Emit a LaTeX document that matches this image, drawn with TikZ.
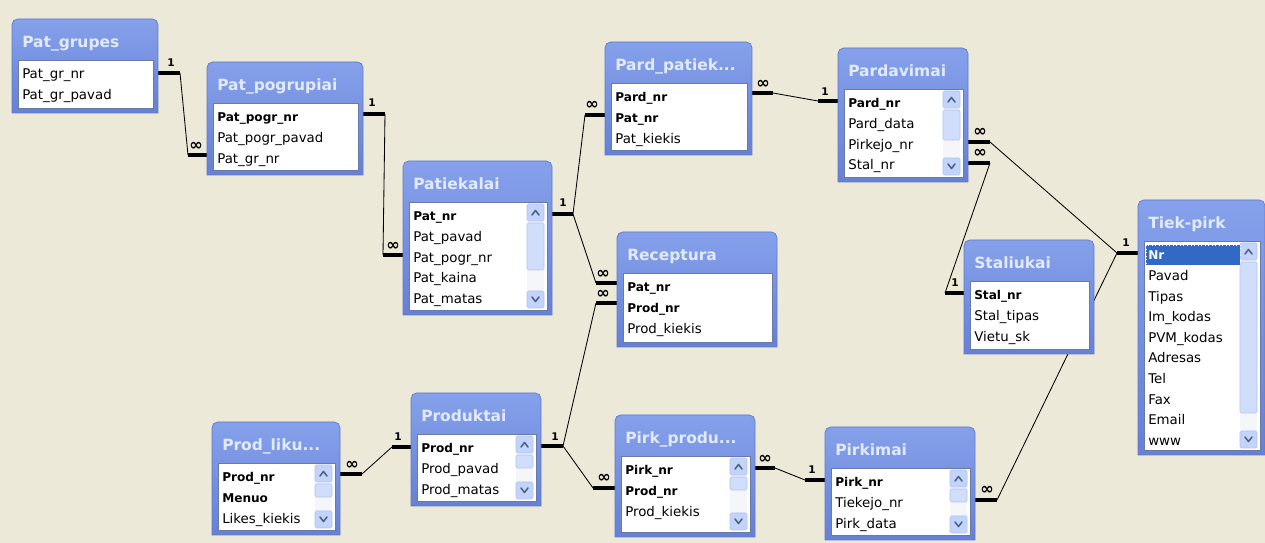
\documentclass[tikz,border=0pt]{standalone}
\usepackage{fontspec}
\setmainfont{DejaVu Sans}
\usepackage{tikz}
\usetikzlibrary{positioning}

\definecolor{bgxp}{RGB}{236,233,216}
\definecolor{frametop}{RGB}{134,161,235}
\definecolor{framebot}{RGB}{102,128,213}
\definecolor{frameline}{RGB}{96,121,204}
\definecolor{titletxt}{RGB}{226,234,253}
\definecolor{listline}{RGB}{105,122,165}
\definecolor{scrbtn}{RGB}{195,212,251}
\definecolor{scrthumb}{RGB}{208,222,252}
\definecolor{scredge}{RGB}{176,195,240}
\definecolor{scrtrack}{RGB}{245,246,250}
\definecolor{scrarrow}{RGB}{77,97,133}
\definecolor{selblue}{RGB}{49,106,197}

\tikzset{
  tframe/.style={top color=frametop, bottom color=framebot, draw=frameline, line width=0.5pt},
  tlist/.style={fill=white, draw=listline, line width=0.6pt},
  ttitle/.style={anchor=base west, inner sep=0pt, text=titletxt, font=\fontsize{11}{13}\selectfont\bfseries},
  field/.style={anchor=base west, inner sep=0pt, font=\fontsize{9.5}{11}\selectfont},
  keyfield/.style={anchor=base west, inner sep=0pt, font=\fontsize{8.6}{11}\selectfont\bfseries},
  relbar/.style={line width=2.2pt},
  relline/.style={line width=0.6pt},
  card/.style={inner sep=0pt, font=\fontsize{7.5}{8}\selectfont\bfseries},
  manycard/.style={inner sep=0pt, font=\fontsize{11.5}{12}\selectfont\bfseries},
  scrbox/.style={fill=scrbtn, draw=scredge, line width=0.4pt, rounded corners=1pt},
  scrtip/.style={draw=scrarrow, line width=1.1pt, line cap=round, line join=round},
}

% table frame: name, left, top, right, bottom, title
\newcommand{\dbtable}[6]{%
  \path[tframe] (#2,#5) [rounded corners=4pt] -- (#2,#3) -- (#4,#3) [sharp corners] -- (#4,#5) -- cycle;
  \node[ttitle] (#1) at (#2+10,#3+29) {#6};
  \path[tlist] (#2+6,#3+41) rectangle (#4-5,#5-5);
}
% field rows: name, left, top, list of style/text
\newcommand{\dbfields}[4]{%
  \foreach \s/\f [count=\i] in {#4}
    \node[\s] (#1-\i) at (#2+10,#3+39.4+20.6*\i) {\f};
}
% scroll bar: list right, list top, list bottom, thumb end
\newcommand{\dbscroll}[4]{%
  \fill[scrtrack] (#1-20,#2+2) rectangle (#1-3,#3-2);
  \path[scrbox] (#1-20,#2+2) rectangle (#1-3,#2+19);
  \path[scrbox] (#1-20,#3-19) rectangle (#1-3,#3-2);
  \path[scrbox, fill=scrthumb] (#1-20,#2+21) rectangle (#1-3,#4);
  \draw[scrtip] (#1-15,#2+13) -- (#1-11.5,#2+8.5) -- (#1-8,#2+13);
  \draw[scrtip] (#1-15,#3-13) -- (#1-11.5,#3-8.5) -- (#1-8,#3-13);
}

\begin{document}
\begin{tikzpicture}[x=0.025cm, y=-0.025cm]
\fill[bgxp] (0,0) rectangle (1265,543);
\useasboundingbox (0,0) rectangle (1265,543);

% relation end points
\coordinate (gr1) at (158,73);  \coordinate (gr2) at (180,73);
\coordinate (pg4) at (188,155); \coordinate (pg3) at (207,155);
\coordinate (pg1) at (363,114); \coordinate (pg2) at (385,114);
\coordinate (pt4) at (383,255); \coordinate (pt3) at (403,255);
\coordinate (pt1) at (552,214); \coordinate (pt2) at (573,214);
\coordinate (pp4) at (585,115); \coordinate (pp3) at (605,115);
\coordinate (rc4) at (596,283); \coordinate (rc3) at (617,283);
\coordinate (rc6) at (596,303); \coordinate (rc5) at (617,303);
\coordinate (pr1) at (541,446); \coordinate (pr2) at (563,446);
\coordinate (pk4) at (593,488); \coordinate (pk3) at (615,488);
\coordinate (pl1) at (340,474); \coordinate (pl2) at (362,474);
\coordinate (pr4) at (392,447); \coordinate (pr3) at (411,447);
\coordinate (pp1) at (752,93);  \coordinate (pp2) at (773,93);
\coordinate (pd4) at (818,101); \coordinate (pd3) at (838,101);
\coordinate (pd1) at (968,142); \coordinate (pd2) at (990,142);
\coordinate (pd5) at (968,163); \coordinate (pd6) at (990,163);
\coordinate (tp4) at (1117,253); \coordinate (tp3) at (1138,253);
\coordinate (st4) at (945,293); \coordinate (st3) at (964,293);
\coordinate (pk1) at (755,468); \coordinate (pk2) at (775,468);
\coordinate (pi4) at (805,480); \coordinate (pi3) at (825,480);
\coordinate (pi1) at (975,500); \coordinate (pi2) at (997,500);

% relations
\foreach \a/\b/\c/\d in {gr1/gr2/pg4/pg3, pg1/pg2/pt4/pt3, pt1/pt2/pp4/pp3,
    pt1/pt2/rc4/rc3, pr1/pr2/rc6/rc5, pr1/pr2/pk4/pk3, pl1/pl2/pr4/pr3,
    pp1/pp2/pd4/pd3, pd1/pd2/tp4/tp3, pd5/pd6/st4/st3, pk1/pk2/pi4/pi3,
    pi1/pi2/tp4/tp3}
{
  \draw[relline] (\b) -- (\c);
  \draw[relbar] (\a) -- (\b);
  \draw[relbar] (\c) -- (\d);
}

% tables
\dbtable{patgrupes}{12}{19}{158}{113}{Pat\_grupes}
\dbfields{patgrupes}{12}{19}{field/Pat\_gr\_nr, field/Pat\_gr\_pavad}

\dbtable{patpogr}{207}{62}{363}{175}{Pat\_pogrupiai}
\dbfields{patpogr}{207}{62}{keyfield/Pat\_pogr\_nr, field/Pat\_pogr\_pavad, field/Pat\_gr\_nr}

\dbtable{patiekalai}{403}{161}{552}{315}{Patiekalai}
\dbscroll{547}{202}{310}{270}
\dbfields{patiekalai}{403}{161}{keyfield/Pat\_nr, field/Pat\_pavad, field/Pat\_pogr\_nr, field/Pat\_kaina, field/Pat\_matas}

\dbtable{pardpat}{605}{42}{752}{155}{Pard\_patiek...}
\dbfields{pardpat}{605}{42}{keyfield/Pard\_nr, keyfield/Pat\_nr, field/Pat\_kiekis}

\dbtable{receptura}{617}{232}{777}{347}{Receptura}
\dbfields{receptura}{617}{232}{keyfield/Pat\_nr, keyfield/Prod\_nr, field/Prod\_kiekis}

\dbtable{pardavimai}{838}{48}{968}{182}{Pardavimai}
\dbscroll{963}{89}{177}{140}
\dbfields{pardavimai}{838}{48}{keyfield/Pard\_nr, field/Pard\_data, field/Pirkejo\_nr, field/Stal\_nr}

\dbtable{staliukai}{964}{240}{1094}{354}{Staliukai}
\dbfields{staliukai}{964}{240}{keyfield/Stal\_nr, field/Stal\_tipas, field/Vietu\_sk}

\dbtable{tiekpirk}{1138}{200}{1265}{455}{Tiek-pirk}
\dbscroll{1260}{241}{450}{413}
\fill[selblue] (1146,245) rectangle (1240,265);
\draw[white, dotted, line width=0.5pt] (1146,245) rectangle (1240,265);
\dbfields{tiekpirk}{1138}{200}{keyfield/\textcolor{white}{Nr}, field/Pavad, field/Tipas, field/Im\_kodas, field/PVM\_kodas, field/Adresas, field/Tel, field/Fax, field/Email, field/www}

\dbtable{prodliku}{212}{422}{340}{535}{Prod\_liku...}
\dbscroll{335}{463}{530}{497}
\dbfields{prodliku}{212}{422}{keyfield/Prod\_nr, keyfield/Menuo, field/Likes\_kiekis}

\dbtable{produktai}{411}{393}{541}{506}{Produktai}
\dbscroll{536}{434}{501}{468}
\dbfields{produktai}{411}{393}{keyfield/Prod\_nr, field/Prod\_pavad, field/Prod\_matas}

\dbtable{pirkprod}{615}{415}{755}{537}{Pirk\_produ...}
\dbscroll{750}{456}{532}{490}
\dbfields{pirkprod}{615}{415}{keyfield/Pirk\_nr, keyfield/Prod\_nr, field/Prod\_kiekis}

\dbtable{pirkimai}{825}{427}{975}{540}{Pirkimai}
\dbscroll{970}{468}{535}{502}
\dbfields{pirkimai}{825}{427}{keyfield/Pirk\_nr, field/Tiekejo\_nr, field/Pirk\_data}

% cardinality labels
\foreach \x/\y [count=\i] in {171/63, 372/103, 563/203, 555/437, 398/437, 825/92, 1126/243, 955/283, 812/470}
  \node[card] (one\i) at (\x,\y) {1};
\foreach \x/\y [count=\i] in {196/146, 393/246, 592/105, 603/274, 603/294, 604/478, 352/465, 763/84, 980/132, 980/153, 765/459, 987/490}
  \node[manycard] (many\i) at (\x,\y) {∞};
\end{tikzpicture}
\end{document}
